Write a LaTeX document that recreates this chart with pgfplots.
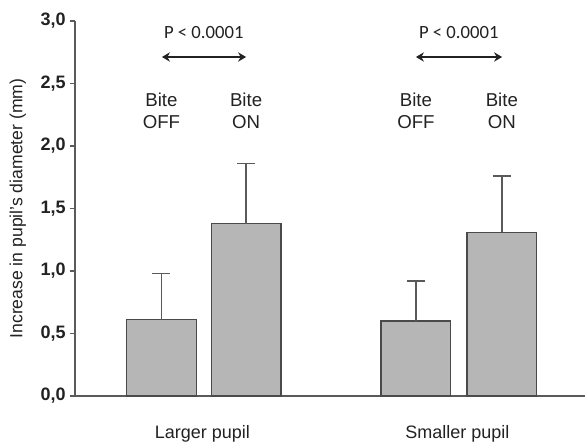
\documentclass[border=0pt]{standalone}
\usepackage{pgfplots}
\pgfplotsset{compat=1.18}
\usepackage{fontspec}
\setmainfont{Liberation Sans}
\newfontfamily\calib{Carlito}
\usetikzlibrary{arrows.meta}
\definecolor{barfill}{HTML}{B6B6B6}
\definecolor{baredge}{HTML}{4A4A4A}
\definecolor{axisgray}{HTML}{5A5A5A}
\definecolor{txt}{HTML}{222222}
\begin{document}
\begin{tikzpicture}
\begin{axis}[
  at={(0,0)}, anchor=south west,
  scale only axis, width=382.5pt, height=281.25pt,
  xmin=0.5, xmax=2.5, ymin=0, ymax=3,
  axis x line=bottom, axis y line=left,
  axis line style={-, draw=axisgray, line width=0.9pt},
  xtick={1,2}, xticklabels={Larger pupil, Smaller pupil},
  xtick style={draw=none},
  xticklabel style={font=\fontsize{13.5}{15}\selectfont, text=txt, yshift=-15pt},
  ytick={0,0.5,1,1.5,2,2.5,3},
  ytick style={draw=axisgray, line width=0.8pt},
  tick align=outside, major tick length=3.5pt,
  yticklabel style={font=\bfseries\fontsize{13.5}{15}\selectfont, text=txt,
    /pgf/number format/.cd, use comma, fixed, fixed zerofill, precision=1},
  /pgf/number format/assume math mode=true,
  ylabel={Increase in pupil's diameter (mm)},
  ylabel style={at={(axis description cs:-0.112,0.5)}, anchor=center,
    font=\fontsize{13.2}{14}\selectfont, text=txt},
  clip=false,
]
\addplot[ybar, bar width=0.274, fill=barfill, draw=baredge, line width=0.9pt,
  error bars/.cd, y dir=plus, y explicit,
  error bar style={draw=axisgray, line width=1pt},
  error mark options={draw=axisgray, line width=1pt, mark size=6.75pt, rotate=90}]
  coordinates {
    (0.839,0.61) +- (0,0.37)
    (1.171,1.38) +- (0,0.48)
    (1.837,0.60) +- (0,0.32)
    (2.174,1.31) +- (0,0.45)
  };
\node[align=center, font=\fontsize{14}{16.5}\selectfont, text=txt] at (axis cs:0.839,2.28) {Bite\\OFF};
\node[align=center, font=\fontsize{14}{16.5}\selectfont, text=txt] at (axis cs:1.171,2.28) {Bite\\ON};
\node[align=center, font=\fontsize{14}{16.5}\selectfont, text=txt] at (axis cs:1.837,2.28) {Bite\\OFF};
\node[align=center, font=\fontsize{14}{16.5}\selectfont, text=txt] at (axis cs:2.174,2.28) {Bite\\ON};
\node[font=\calib\fontsize{14}{16}\selectfont, text=txt] at (axis cs:1.005,2.904) {P < 0.0001};
\node[font=\calib\fontsize{14}{16}\selectfont, text=txt] at (axis cs:2.005,2.904) {P < 0.0001};
\draw[{Stealth[length=6pt,width=7pt]}-{Stealth[length=6pt,width=7pt]}, line width=1.4pt, draw=txt] (axis cs:0.841,2.712) -- (axis cs:1.171,2.712);
\draw[{Stealth[length=6pt,width=7pt]}-{Stealth[length=6pt,width=7pt]}, line width=1.4pt, draw=txt] (axis cs:1.837,2.712) -- (axis cs:2.175,2.712);
\end{axis}
\pgfresetboundingbox
\path (-56.25pt,-35.25pt) rectangle (382.5pt,297pt);
\end{tikzpicture}
\end{document}
